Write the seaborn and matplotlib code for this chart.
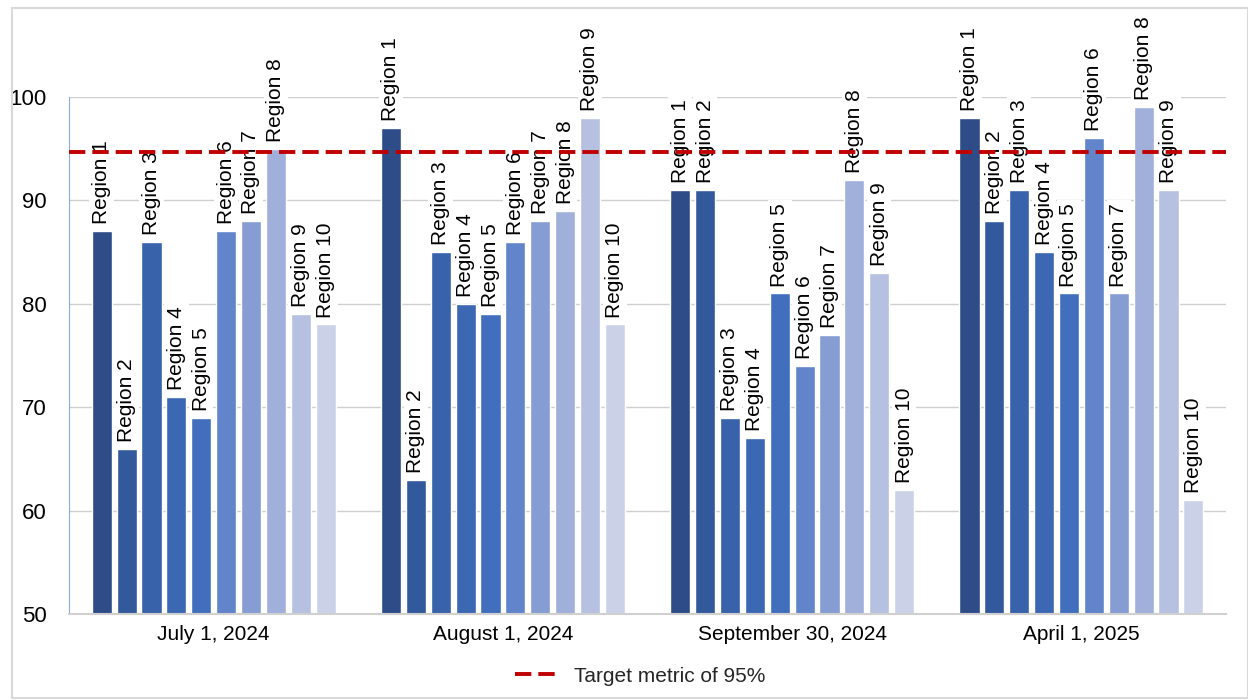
import matplotlib
matplotlib.use("Agg")
import matplotlib.pyplot as plt
import seaborn as sns
import pandas as pd
from matplotlib.lines import Line2D
from matplotlib.patches import Rectangle

dates = ["July 1, 2024", "August 1, 2024", "September 30, 2024", "April 1, 2025"]
regions = ["Region 1", "Region 2", "Region 3", "Region 4", "Region 5",
           "Region 6", "Region 7", "Region 8", "Region 9", "Region 10"]
jul = [87, 66, 86, 71, 69, 87, 88, 95, 79, 78]
aug = [97, 63, 85, 80, 79, 86, 88, 89, 98, 78]
sep = [91, 91, 69, 67, 81, 74, 77, 92, 83, 62]
apr = [98, 88, 91, 85, 81, 96, 81, 99, 91, 61]
target = 94.7

colors = ["#2E4D88", "#33599D", "#3862AA", "#3C68B3", "#416FBD",
          "#6184CA", "#869DD3", "#A0B0DA", "#B6C1E1", "#CBD2E8"]

rows = []
for d, vals in zip(dates, [jul, aug, sep, apr]):
    for r, v in zip(regions, vals):
        rows.append({"date": d, "region": r, "value": v})
df = pd.DataFrame(rows)

sns.set_style("white")
plt.rcParams["font.family"] = ["Liberation Sans", "DejaVu Sans"]

fig = plt.figure(figsize=(12.48, 7.0), dpi=100)
ax = fig.add_axes([0.0553, 0.1229, 0.9271, 0.7385])

sns.barplot(data=df, x="date", y="value", hue="region", palette=colors,
            width=0.86, gap=0.19, saturation=1, legend=False, ax=ax, zorder=2)

for cont, r in zip(ax.containers, regions):
    ax.bar_label(cont, labels=[r] * len(cont), rotation=90, padding=5,
                 fontsize=15, color="black", zorder=3, clip_on=False,
                 bbox=dict(facecolor="white", edgecolor="none", pad=2))

dash = (0, (4.2, 1.8))
ax.axhline(target, color="#C00000", lw=2.8, ls=dash, zorder=5)

ax.set_ylim(50, 100)
ax.set_xlim(-0.5, 3.5)
ax.set_yticks([50, 60, 70, 80, 90, 100])
ax.yaxis.grid(True, color="#D0D0D0", lw=1, zorder=0)
ax.set_axisbelow(True)
ax.set_xlabel("")
ax.set_ylabel("")
for s in ["top", "right"]:
    ax.spines[s].set_visible(False)
ax.spines["left"].set_color("#8FAADC")
ax.spines["bottom"].set_color("#D0D0D0")
ax.spines["bottom"].set_linewidth(1.5)
ax.tick_params(axis="y", colors="#8FAADC", length=6, width=1, labelsize=16,
               labelcolor="black", pad=10)
ax.tick_params(axis="x", length=0, labelsize=15, labelcolor="black", pad=8)

handle = Line2D([], [], color="#C00000", lw=2.8, ls=dash)
fig.legend([handle], ["Target metric of 95%"], loc="center",
           bbox_to_anchor=(0.513, 0.034), frameon=False, fontsize=15,
           handlelength=1.9, handletextpad=0.9)

fig.patches.append(Rectangle((0.0096, 0.003), 0.99, 0.986, transform=fig.transFigure,
                             fill=False, edgecolor="#D9D9D9", lw=1.5))

fig.savefig("out.png", dpi=100)
